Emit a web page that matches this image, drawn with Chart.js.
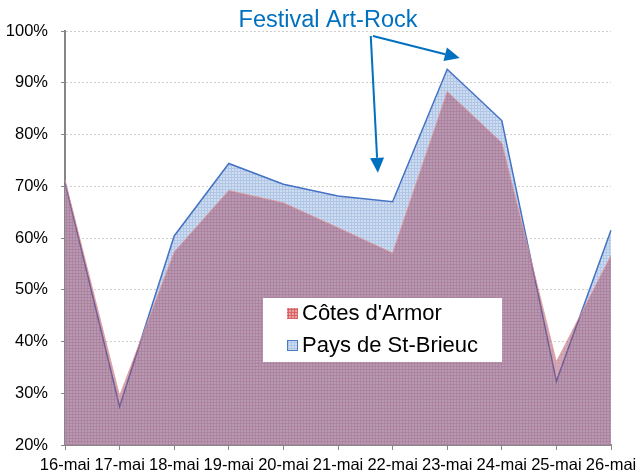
<!DOCTYPE html>
<html>
<head>
<meta charset="utf-8">
<script src="https://cdn.jsdelivr.net/npm/chart.js@4.4.1/dist/chart.umd.min.js"></script>
<style>
  html, body { margin: 0; padding: 0; background: #fff; }
  #wrap { width: 640px; height: 474px; }
</style>
</head>
<body>
<div id="wrap"><canvas id="chart"></canvas></div>
<script>
// data
const categories = ['16-mai', '17-mai', '18-mai', '19-mai', '20-mai', '21-mai', '22-mai', '23-mai', '24-mai', '25-mai', '26-mai'];
const cotesArmor = [71.2, 29.5, 57.3, 69.2, 66.8, 62.0, 57.1, 88.3, 78.4, 36.1, 56.6];
const paysStBrieuc = [70.8, 27.4, 60.4, 74.4, 70.4, 68.1, 67.0, 92.6, 82.7, 32.3, 61.5];
const annotationText = 'Festival Art-Rock';

// small tiled patterns that mimic the Excel grid fills
function makePattern(bg, line) {
  const c = document.createElement('canvas');
  c.width = 3; c.height = 3;
  const g = c.getContext('2d');
  g.fillStyle = bg;
  g.fillRect(0, 0, 3, 3);
  g.fillStyle = line;
  g.fillRect(0, 0, 3, 1);
  g.fillRect(0, 0, 1, 3);
  return g.createPattern(c, 'repeat');
}
const bluePattern = makePattern('rgb(208,221,240)', 'rgb(176,198,230)');
const redPattern = makePattern('rgba(150,68,98,0.44)', 'rgba(205,100,120,0.2)');
const redLegend = makePattern('rgb(236,160,160)', 'rgb(214,100,100)');

function arrow(ctx, x1, y1, x2, y2) {
  const ang = Math.atan2(y2 - y1, x2 - x1);
  const len = 15, half = 7;
  const bx = x2 - Math.cos(ang) * len, by = y2 - Math.sin(ang) * len;
  ctx.beginPath();
  ctx.moveTo(x1, y1);
  ctx.lineTo(bx, by);
  ctx.stroke();
  ctx.beginPath();
  ctx.moveTo(x2, y2);
  ctx.lineTo(bx + Math.sin(ang) * half, by - Math.cos(ang) * half);
  ctx.lineTo(bx - Math.sin(ang) * half, by + Math.cos(ang) * half);
  ctx.closePath();
  ctx.fill();
}

const extras = {
  id: 'extras',
  afterDraw(chart) {
    const ctx = chart.ctx;
    const x = chart.scales.x, y = chart.scales.y;
    ctx.save();

    // annotation
    ctx.fillStyle = '#0070c0';
    ctx.strokeStyle = '#0070c0';
    ctx.lineWidth = 2;
    ctx.font = '23.5px "Liberation Sans", Arial, sans-serif';
    ctx.textAlign = 'center';
    ctx.textBaseline = 'middle';
    ctx.fillText(annotationText, 328, 21);
    arrow(ctx, x.getPixelForValue(5.6), 36, x.getPixelForValue(5.73), y.getPixelForValue(72.6));
    arrow(ctx, x.getPixelForValue(5.64), 36, x.getPixelForValue(7.23), y.getPixelForValue(94.8));

    // legend box
    ctx.fillStyle = '#fff';
    ctx.fillRect(263, 298, 239, 64);
    ctx.font = '22px "Liberation Sans", Arial, sans-serif';
    ctx.textAlign = 'left';
    ctx.fillStyle = redLegend;
    ctx.fillRect(287, 308, 11, 11);
    ctx.fillStyle = bluePattern;
    ctx.fillRect(287, 340, 11, 11);
    ctx.strokeStyle = '#4a7cc4';
    ctx.lineWidth = 1;
    ctx.strokeRect(287.5, 340.5, 10, 10);
    ctx.fillStyle = '#000';
    ctx.fillText(chart.data.datasets[0].label, 302, 314);
    ctx.fillText(chart.data.datasets[1].label, 302, 346);
    ctx.restore();
  }
};

new Chart(document.getElementById('chart'), {
  type: 'line',
  data: {
    labels: categories,
    datasets: [
      {
        label: "Côtes d'Armor",
        data: cotesArmor,
        fill: 'start',
        backgroundColor: redPattern,
        borderColor: 'rgba(228,150,150,0.8)',
        borderWidth: 1,
        pointRadius: 0,
        tension: 0
      },
      {
        label: 'Pays de St-Brieuc',
        data: paysStBrieuc,
        fill: 'start',
        backgroundColor: bluePattern,
        borderColor: '#4472c4',
        borderWidth: 1.5,
        pointRadius: 0,
        tension: 0
      }
    ]
  },
  options: {
    responsive: true,
    maintainAspectRatio: false,
    animation: false,
    layout: { padding: { top: 31, left: 4, right: 0, bottom: 0 } },
    plugins: {
      legend: { display: false },
      tooltip: { enabled: false }
    },
    scales: {
      x: {
        offset: false,
        afterFit(scale) { scale.height = 29; scale.paddingRight = 29; },
        grid: { drawOnChartArea: false, drawTicks: true, tickLength: 5, color: '#868686', lineWidth: 1 },
        border: { color: '#868686', width: 2 },
        ticks: {
          color: '#000',
          font: { family: '"Liberation Sans", Arial, sans-serif', size: 16.5 },
          maxRotation: 0, autoSkip: false, padding: 6
        }
      },
      y: {
        min: 20,
        max: 100,
        afterFit(scale) { scale.width = 61; },
        grid: {
          color: '#cfcfcf', lineWidth: 1, tickLength: 4,
          tickColor: '#868686'
        },
        border: { color: '#868686', width: 2, dash: [2, 2] },
        ticks: {
          stepSize: 10,
          color: '#000',
          padding: 13,
          font: { family: '"Liberation Sans", Arial, sans-serif', size: 16.5 },
          callback: v => v + '%'
        }
      }
    }
  },
  plugins: [extras]
});
</script>
</body>
</html>
